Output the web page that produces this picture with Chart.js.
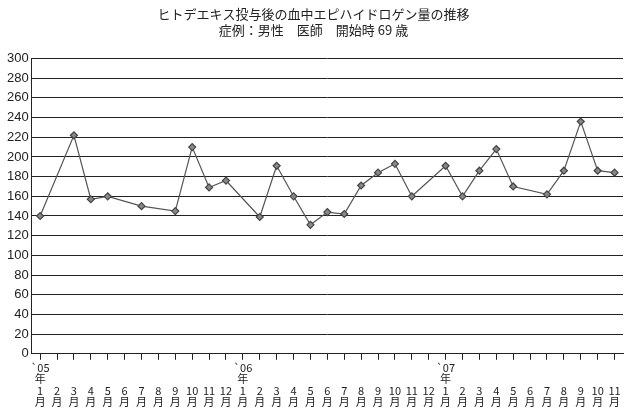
<!DOCTYPE html>
<html><head><meta charset="utf-8">
<script src="https://cdn.jsdelivr.net/npm/chart.js@4"></script>
<style>body{margin:0;background:#fff}#wrap{width:631px;height:410px}</style>
</head><body><div id="wrap"><canvas id="c"></canvas></div>
<script>
var years = ["`05", "`06", "`07"];
var monthsPerYear = [12, 12, 11];
var values = [
  140, null, 222, 157, 160, null, 150, null, 145, 210, 169, 176,
  null, 139, 191, 160, 131, 144, 142, 171, 184, 193, 160, null,
  191, 160, 186, 208, 170, null, 162, 186, 236, 186, 184
];
var yTicks = [0, 300, 20];

var labels = [];
years.forEach(function(y, i) {
  for (var m = 1; m <= monthsPerYear[i]; m++) {
    labels.push(m === 1 ? [y, "年", String(m), "月"] : ["", "", String(m), "月"]);
  }
});

new Chart(document.getElementById("c"), {
  type: "line",
  data: {
    labels: labels,
    datasets: [{
      data: values,
      spanGaps: true,
      borderColor: "#555",
      borderWidth: 1.2,
      pointStyle: "rectRot",
      pointRadius: 3.5,
      pointBackgroundColor: "#888",
      pointBorderColor: "#444",
      tension: 0
    }]
  },
  options: {
    responsive: true, maintainAspectRatio: false, animation: false,
    layout: { padding: { left: 4, right: 8, top: 0, bottom: 0 } },
    plugins: {
      legend: { display: false },
      title: {
        display: true,
        text: ["ヒトデエキス投与後の血中エピハイドロゲン量の推移", "症例：男性　医師　開始時 69 歳"],
        color: "#222",
        font: { family: "Noto Sans CJK JP", size: 13, weight: "normal", lineHeight: 1.25 },
        padding: { top: 6, bottom: 20 }
      }
    },
    scales: {
      y: {
        min: yTicks[0], max: yTicks[1],
        ticks: { stepSize: yTicks[2], color: "#222", font: { family: "Liberation Sans", size: 13 } },
        grid: { color: "#222", drawTicks: false },
        border: { color: "#222" }
      },
      x: {
        offset: true,
        ticks: { autoSkip: false, maxRotation: 0, color: "#222", font: { family: "Noto Sans CJK JP", size: 11, lineHeight: 1.05 }, padding: 2 },
        grid: { display: true, drawOnChartArea: false, color: "#222", tickLength: 6 },
        border: { color: "#222" }
      }
    }
  }
});
</script></body></html>
